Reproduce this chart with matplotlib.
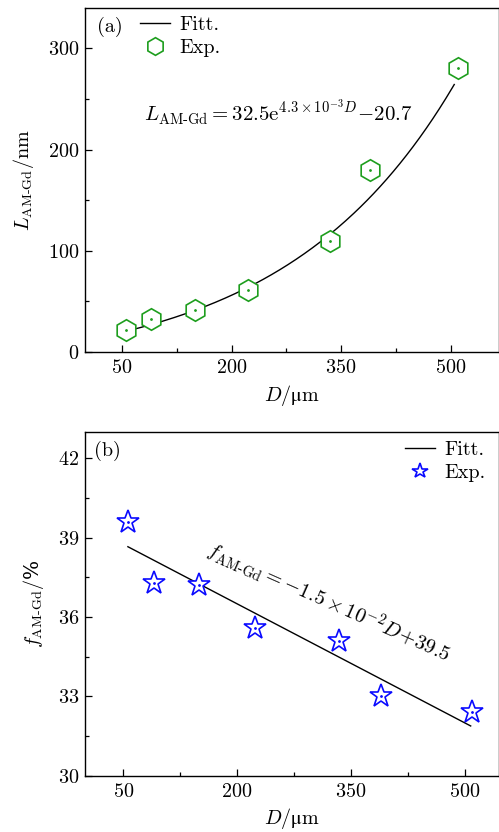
import numpy as np
import matplotlib
matplotlib.use("Agg")
import matplotlib.pyplot as plt

plt.rcParams['font.family'] = ['cmr10', 'DejaVu Serif']
plt.rcParams['mathtext.fontset'] = 'cm'
plt.rcParams['axes.formatter.use_mathtext'] = True
plt.rcParams['axes.unicode_minus'] = False

# Grain size D (um) and measured quantities
d_um = [56, 90, 150, 223, 335, 390, 510]
length_nm = [22, 33, 42, 61, 110, 180, 281]
fraction_pct = [39.6, 37.3, 37.2, 35.6, 35.1, 33.0, 32.4]

# Fit parameters
exp_a, exp_b, exp_c = 32.5, 4.3e-3, -20.7
lin_k, lin_b = -1.5e-2, 39.5

green = '#1e9e1e'
blue = '#0a0aff'
fs = 14.5

fig = plt.figure(figsize=(4.99, 8.32), dpi=100)
ax1 = fig.add_axes([0.1703, 0.5769, 0.8307, 0.4135])
ax2 = fig.add_axes([0.1703, 0.0677, 0.8307, 0.4131])

for ax in (ax1, ax2):
    ax.tick_params(which='both', direction='in', labelsize=fs, width=0.9)
    ax.tick_params(which='major', length=5)
    ax.tick_params(which='minor', length=3)
    ax.tick_params(axis='x', pad=5)
    ax.tick_params(axis='y', pad=4)
    for s in ax.spines.values():
        s.set_linewidth(1.0)

xlabel = r'$D/\mathrm{μm}$'

# (a) exponential fit
dfit = np.linspace(d_um[0], 505, 200)
ax1.plot(dfit, exp_a * np.exp(exp_b * dfit) + exp_c, color='black', lw=1.0, label='Fitt.')
ax1.plot(d_um, length_nm, linestyle='none', marker='h', ms=15.5, mfc='white',
         mec=green, mew=1.2, label='Exp.')
ax1.plot(d_um, length_nm, linestyle='none', marker='.', ms=2, color=green)
ax1.set_xlim(-0.8, 567)
ax1.set_ylim(0, 340)
ax1.set_xticks([50, 200, 350, 500])
ax1.set_xticks([125, 275, 425], minor=True)
ax1.set_yticks([0, 100, 200, 300])
ax1.set_yticks([50, 150, 250], minor=True)
ax1.set_xlabel(xlabel, fontsize=fs, labelpad=4)
ax1.set_ylabel(r'$L_{\mathrm{AM}\text{-}\mathrm{Gd}}/\mathrm{nm}$', fontsize=fs, labelpad=9)
ax1.text(0.029, 0.975, '(a)', transform=ax1.transAxes, fontsize=fs, va='top', ha='left')
ax1.text(80, 236, r'$L_{\mathrm{AM}\text{-}\mathrm{Gd}}=32.5\mathrm{e}^{4.3\times10^{-3}D}\!-\!20.7$',
         fontsize=15, ha='left', va='center')
ax1.legend(loc='upper left', bbox_to_anchor=(0.133, 0.978), frameon=False, fontsize=fs,
           markerscale=0.82, handlelength=1.5, handletextpad=0.45, labelspacing=0.25,
           borderpad=0, borderaxespad=0)

# (b) linear fit
dlin = np.linspace(d_um[0], 508, 50)
ax2.plot(dlin, lin_k * dlin + lin_b, color='black', lw=1.0, label='Fitt.')
ax2.plot(d_um, fraction_pct, linestyle='none', marker='*', ms=17, mfc='white',
         mec=blue, mew=1.2, label='Exp.')
ax2.plot(d_um, fraction_pct, linestyle='none', marker='.', ms=2, color=blue)
ax2.set_xlim(-0.6, 546)
ax2.set_ylim(30, 43)
ax2.set_xticks([50, 200, 350, 500])
ax2.set_xticks([125, 275, 425], minor=True)
ax2.set_yticks([30, 33, 36, 39, 42])
ax2.set_yticks([31.5, 34.5, 37.5, 40.5], minor=True)
ax2.set_xlabel(xlabel, fontsize=fs, labelpad=4)
ax2.set_ylabel(r'$f_{\mathrm{AM}\text{-}\mathrm{Gd}}/$%', fontsize=fs, labelpad=9,
               family=['DejaVu Serif'])
ax2.text(0.022, 0.975, '(b)', transform=ax2.transAxes, fontsize=fs, va='top', ha='left')
ax2.text(320, 36.55, r'$f_{\mathrm{AM}\text{-}\mathrm{Gd}}=-1.5\times10^{-2}D\!+\!39.5$',
         fontsize=15, ha='center', va='center', rotation=-24, rotation_mode='anchor')
ax2.legend(loc='upper right', bbox_to_anchor=(0.966, 0.975), frameon=False, fontsize=fs,
           markerscale=0.68, handlelength=1.5, handletextpad=0.45, labelspacing=0.25,
           borderpad=0, borderaxespad=0)

fig.savefig('out.png', dpi=100)
